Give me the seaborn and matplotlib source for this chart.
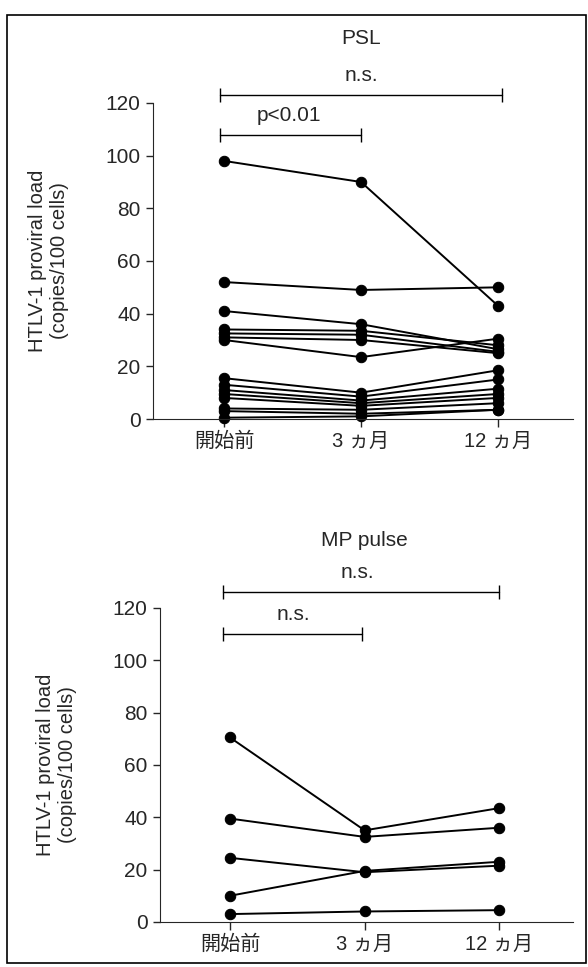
import seaborn as sns
import matplotlib.pyplot as plt
import matplotlib.patches as patches
import pandas as pd

timepoints = ['開始前', '3 ヵ月', '12 ヵ月']

# PSL group, one value per patient
psl_before = [98, 52, 41, 34, 32.5, 31, 30, 15.5, 13, 11, 9.5, 8, 4, 3, 0.5]
psl_3m = [90, 49, 36, 33.5, 32, 30, 23.5, 10, 8.5, 7, 6, 5, 3.5, 2, 1]
psl_12m = [43, 50, 26.5, 28, 25.5, 25, 30.5, 18.5, 15, 11.5, 9.5, 8, 6, 3.5, 3.5]

# MP pulse group
mp_before = [70.5, 39.5, 24.5, 10, 3]
mp_3m = [35, 32.5, 19, 19.5, 4]
mp_12m = [43.5, 36, 21.5, 23, 4.5]

yticks = [0, 20, 40, 60, 80, 100, 120]
ylabel = 'HTLV-1 proviral load\n(copies/100 cells)'


def to_long(before, m3, m12):
    rows = []
    for i, vals in enumerate(zip(before, m3, m12)):
        for t, v in zip(timepoints, vals):
            rows.append({'patient': i, 'time': t, 'load': v})
    return pd.DataFrame(rows)


sns.set_style('ticks')
plt.rcParams['font.family'] = ['Liberation Sans', 'Noto Sans CJK JP']

fig = plt.figure(figsize=(5.88, 9.67), dpi=100)
ax1 = fig.add_axes([0.26, 0.5667, 0.715, 0.3268])
ax2 = fig.add_axes([0.272, 0.0466, 0.703, 0.3247])

# frame round the whole figure
fig.patches.append(patches.Rectangle((0.012, 0.004), 0.984, 0.98, transform=fig.transFigure,
                                     fill=False, edgecolor='black', linewidth=1.2))


def bracket(ax, x0, x1, y, label, tx, ty):
    ax.plot([x0, x1], [y, y], color='black', lw=1, clip_on=False)
    ax.plot([x0, x1], [y, y], ls='', marker='|', ms=10, mew=1, color='black', clip_on=False)
    ax.text(tx, ty, label, ha='center', va='bottom', fontsize=15)


panels = [
    (ax1, to_long(psl_before, psl_3m, psl_12m), 'PSL',
     [(-0.03, 2.03, 123, 'n.s.', 1.0, 127), (-0.03, 1.0, 108, 'p<0.01', 0.47, 111.5)], 141),
    (ax2, to_long(mp_before, mp_3m, mp_12m), 'MP pulse',
     [(-0.05, 2.0, 126, 'n.s.', 0.95, 130), (-0.05, 0.98, 110, 'n.s.', 0.47, 114)], 142),
]

for ax, df, title, brackets, title_y in panels:
    sns.lineplot(data=df, x='time', y='load', units='patient', estimator=None,
                 color='black', lw=1.4, marker='o', markersize=7.5, markeredgecolor='black',
                 ax=ax, clip_on=False)
    ax.set_xlim(-0.52, 2.55)
    ax.set_ylim(0, 120)
    ax.set_yticks(yticks)
    ax.set_xticks(range(len(timepoints)))
    ax.set_xticklabels(timepoints, fontsize=14.5)
    ax.tick_params(axis='y', length=5, width=1, labelsize=15, pad=4)
    ax.tick_params(axis='x', length=6, width=1, pad=3)
    ax.set_xlabel('')
    ax.set_ylabel(ylabel, fontsize=14.5, linespacing=1.2)
    ax.yaxis.set_label_coords(-0.2, 0.5)
    sns.despine(ax=ax)
    for b in brackets:
        bracket(ax, *b)
    ax.text(1.0, title_y, title, ha='center', va='bottom', fontsize=15)

fig.savefig('out.png', dpi=100)
